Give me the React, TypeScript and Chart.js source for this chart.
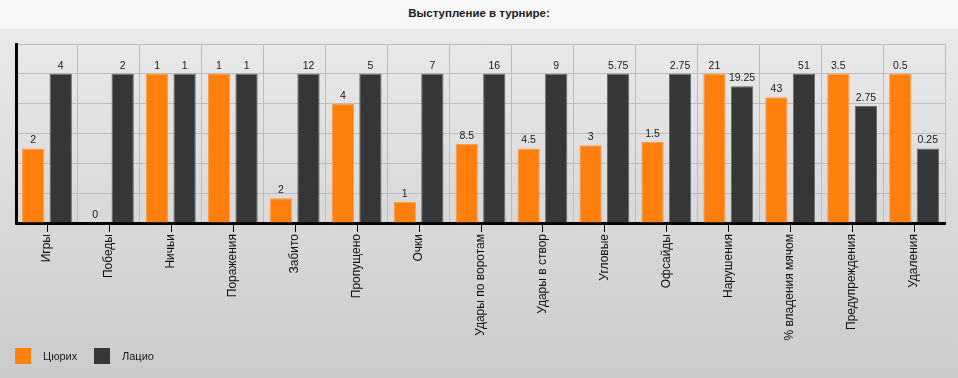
import React, { useEffect, useRef } from "react";
import { Chart, registerables } from "chart.js";

Chart.register(...registerables);

const categories = [
  "Игры",
  "Победы",
  "Ничьи",
  "Поражения",
  "Забито",
  "Пропущено",
  "Очки",
  "Удары по воротам",
  "Удары в створ",
  "Угловые",
  "Офсайды",
  "Нарушения",
  "% владения мячом",
  "Предупреждения",
  "Удаления",
];

const zurichValues = [2, 0, 1, 1, 2, 4, 1, 8.5, 4.5, 3, 1.5, 21, 43, 3.5, 0.5];
const lazioValues = [4, 2, 1, 1, 12, 5, 7, 16, 9, 5.75, 2.75, 19.25, 51, 2.75, 0.25];

const seriesNames = ["Цюрих", "Лацио"];
const seriesColors = ["#ff7f0e", "#363636"];
const seriesBorders = ["#ff9d4a", "#6a6a6a"];

const title = "Выступление в турнире:";

// each category is scaled so that its larger value fills 100 units
const normalize = (vals: number[]) =>
  vals.map((v, i) => {
    const m = Math.max(zurichValues[i], lazioValues[i]);
    return m === 0 ? 0 : (v / m) * 100;
  });

const rawSeries = [zurichValues, lazioValues];

const FONT = "'Liberation Sans', Arial, sans-serif";

const valueLabelPlugin = {
  id: "valueLabels",
  afterDatasetsDraw(chart: any) {
    const ctx = chart.ctx;
    ctx.save();
    ctx.font = `10.5px ${FONT}`;
    ctx.fillStyle = "#1a1a1a";
    ctx.textAlign = "center";
    ctx.textBaseline = "alphabetic";
    chart.data.datasets.forEach((ds: any, di: number) => {
      const meta = chart.getDatasetMeta(di);
      meta.data.forEach((bar: any, i: number) => {
        const raw = rawSeries[di][i];
        ctx.fillText(String(raw), bar.x, bar.y - 5);
      });
    });
    ctx.restore();
  },
};

const centerTickPlugin = {
  id: "centerTicks",
  afterDraw(chart: any) {
    const ctx = chart.ctx;
    const xs = chart.scales.x;
    const bottom = chart.chartArea.bottom;
    ctx.save();
    ctx.strokeStyle = "#000";
    ctx.lineWidth = 1;
    ctx.beginPath();
    categories.forEach((_, i) => {
      const x = Math.round(xs.getPixelForValue(i)) + 0.5;
      ctx.moveTo(x, bottom + 1);
      ctx.lineTo(x, bottom + 9);
    });
    ctx.stroke();
    ctx.restore();
  },
};

export default function App() {
  const ref = useRef<HTMLCanvasElement | null>(null);

  useEffect(() => {
    document.body.style.margin = "0";
    if (!ref.current) return;
    const chart = new Chart(ref.current, {
      type: "bar",
      data: {
        labels: categories,
        datasets: [0, 1].map((k) => ({
          label: seriesNames[k],
          data: normalize(rawSeries[k]),
          backgroundColor: seriesColors[k],
          borderColor: seriesBorders[k],
          borderWidth: 1,
          categoryPercentage: 0.89,
          barPercentage: 0.81,
        })),
      },
      options: {
        responsive: false,
        animation: false,
        devicePixelRatio: 1,
        layout: { padding: { top: 44, left: 16, right: 13, bottom: 0 } },
        plugins: {
          legend: { display: false },
          title: { display: false },
          tooltip: { enabled: false },
        },
        scales: {
          x: {
            offset: true,
            grid: {
              offset: true,
              color: "#bcbcbc",
              lineWidth: 1,
              drawTicks: false,
            },
            border: { color: "#000", width: 3 },
            ticks: {
              autoSkip: false,
              minRotation: 90,
              maxRotation: 90,
              padding: 11,
              color: "#111",
              font: { family: FONT, size: 12 },
            },
            afterFit: (s: any) => {
              s.height = 155;
            },
          },
          y: {
            min: 0,
            max: 120,
            ticks: { display: false, stepSize: 20 },
            grid: { color: "#bcbcbc", lineWidth: 1, drawTicks: false },
            border: { color: "#000", width: 3 },
            afterFit: (s: any) => {
              s.width = 0;
            },
          },
        },
      },
      plugins: [valueLabelPlugin, centerTickPlugin],
    });
    return () => chart.destroy();
  }, []);

  return (
    <div
      style={{
        position: "relative",
        width: 958,
        height: 378,
        overflow: "hidden",
        background: "linear-gradient(to bottom, #ececec 0px, #cbcbcb 378px)",
        fontFamily: FONT,
      }}
    >
      <div
        style={{
          position: "absolute",
          left: 0,
          top: 0,
          width: 958,
          height: 29,
          background: "#f7f7f7",
        }}
      />
      <div
        style={{
          position: "absolute",
          left: 0,
          top: 7,
          width: 958,
          textAlign: "center",
          fontWeight: "bold",
          fontSize: 11.5,
          color: "#1a1a1a",
        }}
      >
        {title}
      </div>
      <canvas
        ref={ref}
        width={958}
        height={378}
        style={{ position: "absolute", left: 0, top: 0, width: 958, height: 378 }}
      />
      {[0, 1].map((k) => (
        <div key={k}>
          <div
            style={{
              position: "absolute",
              left: 15 + k * 79,
              top: 348,
              width: 16,
              height: 16,
              background: seriesColors[k],
            }}
          />
          <div
            style={{
              position: "absolute",
              left: 43 + k * 79,
              top: 349,
              fontSize: 11,
              color: "#1a1a1a",
              lineHeight: "14px",
            }}
          >
            {seriesNames[k]}
          </div>
        </div>
      ))}
    </div>
  );
}
